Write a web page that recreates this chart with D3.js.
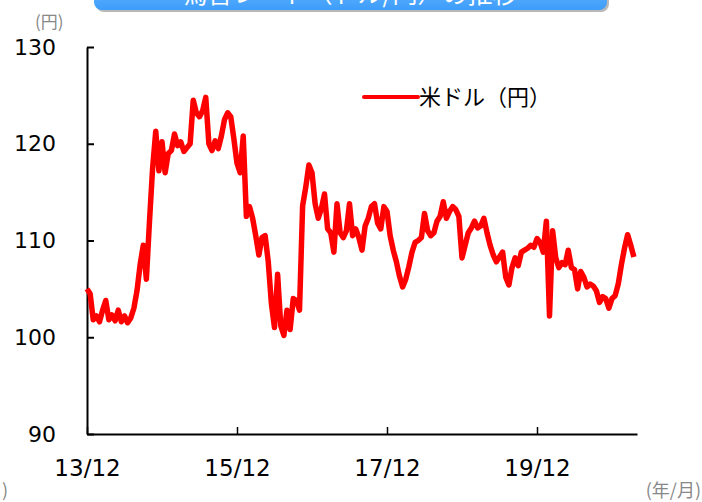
<!DOCTYPE html>
<html>
<head>
<meta charset="utf-8">
<script src="https://cdn.jsdelivr.net/npm/d3@7"></script>
<style>
  body { margin: 0; background: #fff; }
  svg { display: block; }
</style>
</head>
<body>
<script>
// USD/JPY, roughly semi-monthly readings from 2013/12
const usdjpy = [
  105.0, 104.5, 101.8, 102.2, 101.6, 102.8, 103.8, 101.8, 102.3, 101.7,
  102.8, 101.6, 102.2, 101.5, 102.0, 103.0, 104.8, 107.5, 109.5, 106.0,
  112.0, 117.5, 121.3, 117.2, 120.2, 117.0, 119.0, 119.3, 121.0, 119.8,
  120.2, 119.2, 119.6, 120.0, 124.5, 123.2, 122.8, 123.4, 124.8, 120.0,
  119.3, 120.3, 119.5, 120.8, 122.5, 123.2, 122.8, 120.5, 118.0, 117.0,
  120.8, 112.5, 113.5, 112.3, 110.5, 108.5, 110.3, 110.5, 107.8, 103.5,
  101.0, 106.5, 101.2, 100.2, 102.8, 100.8, 104.0, 103.8, 102.8, 113.6,
  115.5, 117.8, 117.0, 113.8, 112.3, 113.3, 114.8, 111.2, 110.8, 108.8,
  113.8, 110.8, 110.3, 111.0, 113.8, 110.5, 111.2, 110.3, 109.0, 111.5,
  112.3, 113.5, 113.8, 111.8, 111.2, 113.5, 113.0, 110.5, 109.0, 107.8,
  106.3, 105.2, 106.0, 107.3, 108.8, 109.8, 110.0, 110.3, 112.8, 111.0,
  110.5, 110.8, 112.0, 112.5, 114.0, 112.3, 113.0, 113.5, 113.2, 112.5,
  108.2, 109.5, 110.8, 111.3, 112.0, 111.3, 111.5, 112.3, 110.8, 109.5,
  108.5, 107.8, 108.3, 108.8, 106.2, 105.4, 107.2, 108.2, 107.4, 108.8,
  109.0, 109.2, 109.5, 109.3, 110.2, 109.8, 108.8, 112.0, 102.2, 111.0,
  108.2, 107.2, 107.7, 107.5, 109.0, 107.2, 107.0, 105.0, 106.8, 106.2,
  105.2, 105.5, 105.3, 104.8, 103.6, 104.2, 104.0, 103.0, 104.0, 104.3,
  105.5, 107.5, 109.2, 110.6, 109.5, 108.3
];

// x ticks sit every 48 half-months (2 years)
const tickIndex = [0, 48, 96, 144];
const tickLabels = ["13/12", "15/12", "17/12", "19/12"];
const yTicks = [90, 100, 110, 120, 130];

const title = "為替レート（ドル/円）の推移";
const seriesName = "米ドル（円）";

const margin = { top: 47, right: 65, bottom: 68, left: 87 },
      width = 702 - margin.left - margin.right,
      height = 502 - margin.top - margin.bottom;

const svg = d3.select("body").append("svg")
    .attr("width", 702)
    .attr("height", 502);

// title banner, cut off at the top like the source
const defs = svg.append("defs");
const grad = defs.append("linearGradient")
    .attr("id", "titleGrad")
    .attr("x1", 0).attr("y1", 0).attr("x2", 0).attr("y2", 1);
grad.append("stop").attr("offset", "0%").attr("stop-color", "#7cc4ff");
grad.append("stop").attr("offset", "100%").attr("stop-color", "#3d9dfb");

svg.append("rect")
    .attr("x", 96).attr("y", -30)
    .attr("width", 513).attr("height", 42)
    .attr("rx", 8)
    .attr("fill", "#b8b8b8");
svg.append("rect")
    .attr("x", 94).attr("y", -30)
    .attr("width", 513).attr("height", 40)
    .attr("rx", 8)
    .attr("fill", "url(#titleGrad)");
svg.append("text")
    .attr("x", 350).attr("y", 3)
    .attr("text-anchor", "middle")
    .attr("fill", "#fff")
    .style("font-family", "'Noto Sans CJK JP', sans-serif")
    .style("font-size", "25px")
    .text(title);

const g = svg.append("g")
    .attr("transform", "translate(" + margin.left + "," + margin.top + ")");

const x = d3.scaleLinear()
    .domain([0, 176])
    .range([0, width]);

const y = d3.scaleLinear()
    .domain([90, 130])
    .range([height, 0]);

// y axis, ticks pointing inward
const yAxis = g.append("g")
    .call(d3.axisLeft(y).tickValues(yTicks).tickSizeInner(-7).tickSizeOuter(0).tickPadding(30));
yAxis.select(".domain").attr("stroke-width", 2);
yAxis.selectAll(".tick line").attr("stroke-width", 2).attr("x1", 0).attr("x2", 7);
yAxis.selectAll("text")
    .attr("x", -31)
    .style("font-family", "'DejaVu Sans', sans-serif")
    .style("font-size", "22px")
    .attr("fill", "#000");

// x axis
const xAxis = g.append("g")
    .attr("transform", "translate(0," + height + ")")
    .call(d3.axisBottom(x).tickValues(tickIndex)
        .tickFormat((d, i) => tickLabels[i])
        .tickSizeInner(-7).tickSizeOuter(0).tickPadding(26));
xAxis.select(".domain").attr("stroke-width", 2);
xAxis.selectAll(".tick line").attr("stroke-width", 1.5);
xAxis.selectAll("text")
    .attr("y", 26)
    .style("font-family", "'DejaVu Sans', sans-serif")
    .style("font-size", "23px")
    .attr("fill", "#000");

// the line
const line = d3.line()
    .x((d, i) => x(i))
    .y(d => y(d));

g.append("path")
    .datum(usdjpy)
    .attr("fill", "none")
    .attr("stroke", "#ff0000")
    .attr("stroke-width", 5.5)
    .attr("stroke-linejoin", "round")
    .attr("d", line);

// legend
svg.append("line")
    .attr("x1", 364).attr("x2", 418)
    .attr("y1", 97).attr("y2", 97)
    .attr("stroke", "#ff0000")
    .attr("stroke-width", 4)
    .attr("stroke-linecap", "round");
svg.append("text")
    .attr("x", 419).attr("y", 105)
    .style("font-family", "'Noto Sans CJK JP', sans-serif")
    .style("font-size", "22px")
    .attr("fill", "#000")
    .text(seriesName);

// unit labels
svg.append("text")
    .attr("x", 35).attr("y", 28)
    .style("font-family", "'Noto Sans CJK JP', sans-serif")
    .style("font-size", "17px")
    .attr("fill", "#888")
    .text("(円)");
svg.append("text")
    .attr("x", 701).attr("y", 497)
    .attr("text-anchor", "end")
    .style("font-family", "'Noto Sans CJK JP', sans-serif")
    .style("font-size", "18px")
    .attr("fill", "#888")
    .text("(年/月)");
svg.append("text")
    .attr("x", 2).attr("y", 497)
    .style("font-family", "'Noto Sans CJK JP', sans-serif")
    .style("font-size", "18px")
    .attr("fill", "#888")
    .text(")");
</script>
</body>
</html>
